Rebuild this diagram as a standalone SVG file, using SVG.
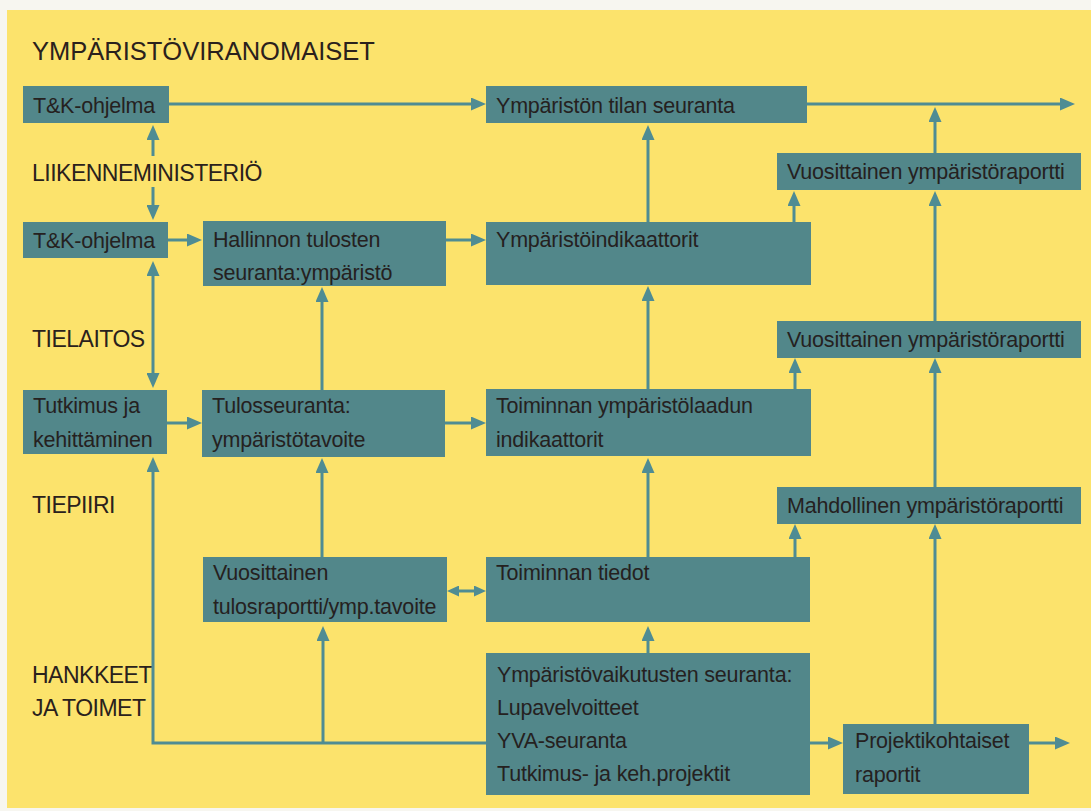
<svg xmlns="http://www.w3.org/2000/svg" width="1091" height="811" viewBox="0 0 1091 811">
<style>
.box{fill:#52878A;}
.t{font-family:"Liberation Sans",Arial,sans-serif;font-size:21.5px;fill:#25211F;letter-spacing:-0.2px;}
.lbl{font-family:"Liberation Sans",Arial,sans-serif;font-size:23px;fill:#2A211C;letter-spacing:-0.5px;}
.ttl{font-family:"Liberation Sans",Arial,sans-serif;font-size:25.5px;fill:#2A211C;}
.c{fill:none;stroke:#4F8C93;stroke-width:3;}
</style>
<defs>
<marker id="ah" markerUnits="userSpaceOnUse" markerWidth="15" markerHeight="13" refX="0" refY="6.5" orient="auto-start-reverse" viewBox="0 0 15 13">
<path d="M0,0 L15,6.5 L0,13 z" fill="#4F8C93"/>
</marker>
<marker id="ahs" markerUnits="userSpaceOnUse" markerWidth="12" markerHeight="11" refX="0" refY="5.5" orient="auto-start-reverse" viewBox="0 0 12 11">
<path d="M0,0 L12,5.5 L0,11 z" fill="#4F8C93"/>
</marker>
</defs>
<rect x="0" y="0" width="1091" height="811" fill="#F7F6F0"/>
<rect x="7" y="10" width="1084" height="798" fill="#FCE36C"/>
<text class="ttl" x="32" y="60">YMPÄRISTÖVIRANOMAISET</text>
<text class="lbl" x="32" y="181">LIIKENNEMINISTERIÖ</text>
<text class="lbl" x="32" y="347">TIELAITOS</text>
<text class="lbl" x="32" y="513">TIEPIIRI</text>
<text class="lbl" x="32" y="683">HANKKEET</text>
<text class="lbl" x="32" y="716">JA TOIMET</text>
<g id="connectors">
<path class="c" d="M169,104 H471" marker-end="url(#ah)"/>
<path class="c" d="M807,104 H1060" marker-end="url(#ah)"/>
<path class="c" d="M935,153 V122" marker-end="url(#ah)"/>
<path class="c" d="M153,156 V140" marker-end="url(#ah)"/>
<path class="c" d="M153,187 V205" marker-end="url(#ah)"/>
<path class="c" d="M168,240 H187" marker-end="url(#ah)"/>
<path class="c" d="M446,240 H471" marker-end="url(#ah)"/>
<path class="c" d="M648,222 V140" marker-end="url(#ah)"/>
<path class="c" d="M794,222 V206" marker-end="url(#ah)"/>
<path class="c" d="M153,276 V373" marker-start="url(#ah)" marker-end="url(#ah)"/>
<path class="c" d="M322,390 V302" marker-end="url(#ah)"/>
<path class="c" d="M935,321 V206" marker-end="url(#ah)"/>
<path class="c" d="M167,423 H187" marker-end="url(#ah)"/>
<path class="c" d="M445,423 H471" marker-end="url(#ah)"/>
<path class="c" d="M648,389 V301" marker-end="url(#ah)"/>
<path class="c" d="M795,389 V373" marker-end="url(#ah)"/>
<path class="c" d="M935,487 V373" marker-end="url(#ah)"/>
<path class="c" d="M322,557 V473" marker-end="url(#ah)"/>
<path class="c" d="M648,557 V473" marker-end="url(#ah)"/>
<path class="c" d="M795,557 V539" marker-end="url(#ah)"/>
<path class="c" d="M459,591 H474" marker-start="url(#ahs)" marker-end="url(#ahs)"/>
<path class="c" d="M648,653 V641" marker-end="url(#ah)"/>
<path class="c" d="M486,743 H153 V472" marker-end="url(#ah)"/>
<path class="c" d="M323,743 V641" marker-end="url(#ah)"/>
<path class="c" d="M810,743 H828" marker-end="url(#ah)"/>
<path class="c" d="M1029,743 H1055" marker-end="url(#ah)"/>
<path class="c" d="M935,724 V539" marker-end="url(#ah)"/>
</g>
<g id="n1"><rect class="box" x="23" y="86" width="146" height="37"/><text class="t" x="33" y="113">T&amp;K-ohjelma</text></g>
<g id="n2"><rect class="box" x="486" y="86" width="321" height="37"/><text class="t" x="496" y="113">Ympäristön tilan seuranta</text></g>
<g id="n3"><rect class="box" x="777" y="153" width="304" height="37"/><text class="t" x="787" y="179">Vuosittainen ympäristöraportti</text></g>
<g id="n4"><rect class="box" x="23" y="222" width="145" height="36"/><text class="t" x="33" y="248">T&amp;K-ohjelma</text></g>
<g id="n5"><rect class="box" x="203" y="221" width="243" height="65"/><text class="t" x="213" y="247">Hallinnon tulosten</text><text class="t" x="213" y="280">seuranta:ympäristö</text></g>
<g id="n6"><rect class="box" x="486" y="222" width="325" height="63"/><text class="t" x="496" y="247">Ympäristöindikaattorit</text></g>
<g id="n7"><rect class="box" x="777" y="321" width="304" height="37"/><text class="t" x="787" y="347">Vuosittainen ympäristöraportti</text></g>
<g id="n8"><rect class="box" x="23" y="390" width="144" height="64"/><text class="t" x="33" y="413">Tutkimus  ja</text><text class="t" x="33" y="447">kehittäminen</text></g>
<g id="n9"><rect class="box" x="202" y="390" width="243" height="67"/><text class="t" x="212" y="413">Tulosseuranta:</text><text class="t" x="212" y="447">ympäristötavoite</text></g>
<g id="n10"><rect class="box" x="486" y="389" width="325" height="67"/><text class="t" x="496" y="413">Toiminnan ympäristölaadun</text><text class="t" x="496" y="447">indikaattorit</text></g>
<g id="n11"><rect class="box" x="777" y="487" width="304" height="37"/><text class="t" x="787" y="513">Mahdollinen ympäristöraportti</text></g>
<g id="n12"><rect class="box" x="203" y="557" width="244" height="65"/><text class="t" x="213" y="580">Vuosittainen</text><text class="t" x="213" y="614">tulosraportti/ymp.tavoite</text></g>
<g id="n13"><rect class="box" x="486" y="557" width="324" height="65"/><text class="t" x="496" y="580">Toiminnan tiedot</text></g>
<g id="n14"><rect class="box" x="486" y="653" width="324" height="142"/><text class="t" x="497" y="682">Ympäristövaikutusten seuranta:</text><text class="t" x="497" y="715">Lupavelvoitteet</text><text class="t" x="497" y="748">YVA-seuranta</text><text class="t" x="497" y="781">Tutkimus- ja keh.projektit</text></g>
<g id="n15"><rect class="box" x="843" y="724" width="186" height="70"/><text class="t" x="855" y="748">Projektikohtaiset</text><text class="t" x="855" y="782">raportit</text></g>
</svg>
